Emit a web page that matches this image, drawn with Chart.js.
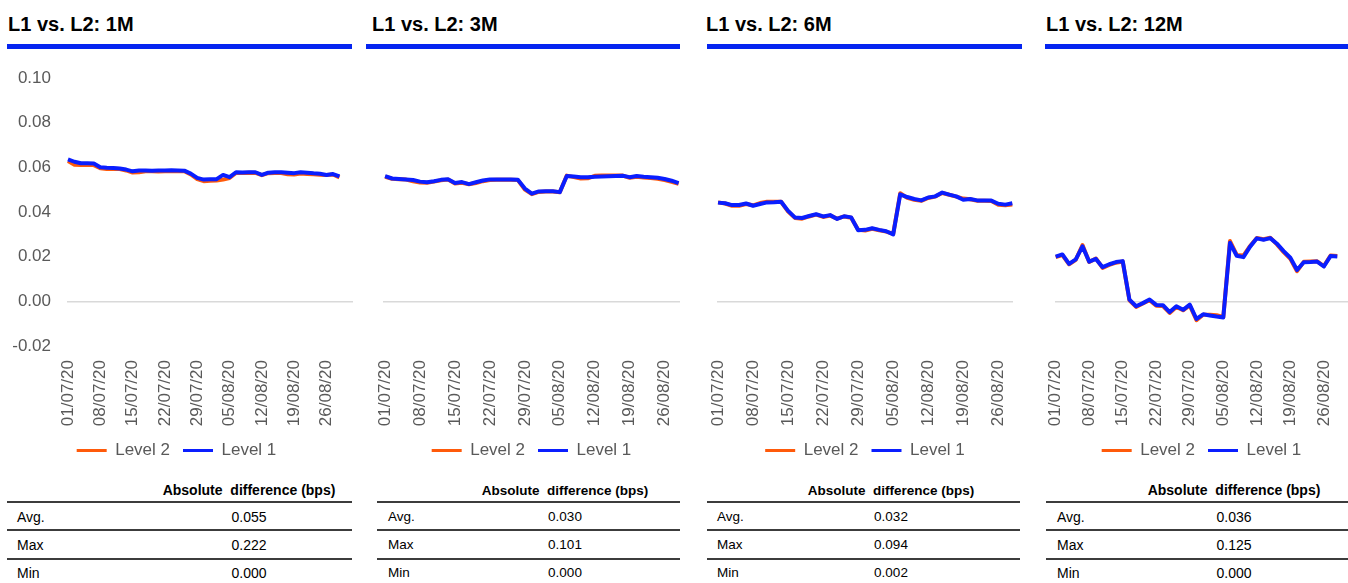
<!DOCTYPE html>
<html>
<head>
<meta charset="utf-8">
<script src="https://cdn.jsdelivr.net/npm/chart.js@4.4.0/dist/chart.umd.min.js"></script>
<style>
    body { margin: 0; background: #fff; font-family: "Liberation Sans", Arial, sans-serif; }
    #page { position: relative; width: 1348px; height: 583px; overflow: hidden; }
    .title { position: absolute; top: 14px; font-weight: bold; font-size: 20px; line-height: 20px; color: #000; white-space: nowrap; }
    .bar { position: absolute; top: 44px; height: 5px; background: #0524f0; }
    .box { position: absolute; top: 60px; }
    .txt { position: absolute; color: #000; white-space: pre; }
    .rule { position: absolute; height: 2px; background: #3c3c3c; }
</style>
</head>
<body>
<div id="page"></div>
<script>
// 日期（工作日）
const dates = ['01/07/20','02/07/20','03/07/20','06/07/20','07/07/20','08/07/20','09/07/20','10/07/20',
    '13/07/20','14/07/20','15/07/20','16/07/20','17/07/20','20/07/20','21/07/20','22/07/20','23/07/20',
    '24/07/20','27/07/20','28/07/20','29/07/20','30/07/20','31/07/20','03/08/20','04/08/20','05/08/20',
    '06/08/20','07/08/20','10/08/20','11/08/20','12/08/20','13/08/20','14/08/20','17/08/20','18/08/20',
    '19/08/20','20/08/20','21/08/20','24/08/20','25/08/20','26/08/20','27/08/20','28/08/20'];

const titles = ['L1 vs. L2: 1M', 'L1 vs. L2: 3M', 'L1 vs. L2: 6M', 'L1 vs. L2: 12M'];
const yTicks = [-0.02, 0, 0.02, 0.04, 0.06, 0.08, 0.10];

// 1M
const m1L2 = [0.0628,0.0612,0.0610,0.0610,0.0610,0.0596,0.0593,0.0594,0.0592,0.0586,0.0577,0.0578,0.0582,0.0583,0.0581,
    0.0583,0.0582,0.0584,0.0583,0.0568,0.0547,0.0538,0.0540,0.0541,0.0545,0.0552,0.0575,0.0575,0.0576,0.0575,0.0565,
    0.0574,0.0575,0.0575,0.0569,0.0568,0.0572,0.0570,0.0569,0.0567,0.0566,0.0568,0.0555];
const m1L1 = [0.0636,0.0625,0.0618,0.0618,0.0617,0.0600,0.0598,0.0597,0.0595,0.0590,0.0582,0.0586,0.0586,0.0585,0.0586,
    0.0586,0.0587,0.0586,0.0585,0.0572,0.0553,0.0545,0.0547,0.0547,0.0566,0.0556,0.0578,0.0577,0.0578,0.0578,0.0566,
    0.0576,0.0578,0.0578,0.0576,0.0574,0.0578,0.0576,0.0573,0.0571,0.0566,0.0570,0.0559];
// 3M
const m3L2 = [0.0558,0.0549,0.0547,0.0545,0.0538,0.0532,0.0531,0.0536,0.0542,0.0545,0.0528,0.0531,0.0524,0.0530,0.0538,
    0.0543,0.0544,0.0544,0.0544,0.0543,0.0500,0.0480,0.0490,0.0492,0.0492,0.0488,0.0563,0.0556,0.0550,0.0551,0.0562,
    0.0563,0.0563,0.0563,0.0563,0.0553,0.0558,0.0554,0.0552,0.0549,0.0543,0.0535,0.0526];
const m3L1 = [0.0561,0.0550,0.0548,0.0546,0.0543,0.0536,0.0533,0.0538,0.0544,0.0547,0.0530,0.0534,0.0525,0.0533,0.0541,
    0.0546,0.0545,0.0545,0.0545,0.0544,0.0505,0.0482,0.0492,0.0493,0.0493,0.0489,0.0561,0.0559,0.0556,0.0556,0.0558,
    0.0559,0.0560,0.0561,0.0562,0.0556,0.0561,0.0558,0.0556,0.0553,0.0548,0.0540,0.0529];
// 6M
const m6L2 = [0.0443,0.0438,0.0428,0.0428,0.0436,0.0430,0.0440,0.0446,0.0446,0.0446,0.0402,0.0373,0.0370,0.0380,0.0388,
    0.0378,0.0384,0.0370,0.0380,0.0374,0.0320,0.0317,0.0325,0.0318,0.0312,0.0302,0.0484,0.0463,0.0455,0.0450,0.0463,
    0.0469,0.0485,0.0477,0.0469,0.0460,0.0457,0.0450,0.0450,0.0449,0.0432,0.0430,0.0433];
const m6L1 = [0.0442,0.0439,0.0431,0.0431,0.0438,0.0428,0.0436,0.0443,0.0444,0.0446,0.0405,0.0375,0.0373,0.0382,0.0390,
    0.0380,0.0386,0.0369,0.0381,0.0376,0.0318,0.0320,0.0327,0.0320,0.0314,0.0300,0.0479,0.0467,0.0458,0.0452,0.0465,
    0.0470,0.0487,0.0478,0.0470,0.0455,0.0458,0.0452,0.0452,0.0451,0.0437,0.0433,0.0439];
// 12M
const m12L2 = [0.0198,0.0207,0.0166,0.0186,0.0252,0.0176,0.0192,0.0150,0.0163,0.0173,0.0178,0.0005,-0.0025,-0.0010,0.0005,
    -0.0020,-0.0021,-0.0052,-0.0025,-0.0040,-0.0018,-0.0084,-0.0060,-0.0060,-0.0062,-0.0070,0.0270,0.0208,0.0205,0.0248,
    0.0284,0.0278,0.0285,0.0255,0.0220,0.0190,0.0135,0.0177,0.0178,0.0179,0.0158,0.0205,0.0203];
const m12L1 = [0.0200,0.0210,0.0168,0.0188,0.0246,0.0178,0.0190,0.0153,0.0166,0.0176,0.0180,0.0008,-0.0022,-0.0008,0.0008,
    -0.0016,-0.0017,-0.0048,-0.0022,-0.0038,-0.0015,-0.0079,-0.0058,-0.0063,-0.0068,-0.0072,0.0262,0.0204,0.0198,0.0245,
    0.0282,0.0276,0.0283,0.0258,0.0225,0.0195,0.0140,0.0175,0.0176,0.0178,0.0156,0.0203,0.0201];

const level2 = [m1L2, m3L2, m6L2, m12L2];
const level1 = [m1L1, m3L1, m6L1, m12L1];

// 表格
const tableHead = 'Absolute  difference (bps)';
const rowNames = ['Avg.', 'Max', 'Min'];
const statAvg = ['0.055', '0.030', '0.032', '0.036'];
const statMax = ['0.222', '0.101', '0.094', '0.125'];
const statMin = ['0.000', '0.000', '0.002', '0.000'];

// 布局（cL/cW 为绘图区，padL/padR 为画布两侧留白）
const layout = [
    {barL: 7,    barW: 345, titleL: 8,    cL: 0,    cW: 353, yW: 67, padL: 0,  padR: 0,  xMin: -0.15, xMax: 44.1, tL: 7,    tW: 345, labX: 17,   valC: 249,  fs: 14},
    {barL: 366,  barW: 314, titleL: 372,  cL: 383,  cW: 297, yW: 0,  padL: 14, padR: 14, xMin: -0.3,  xMax: 42.2, tL: 377,  tW: 303, labX: 388,  valC: 565,  fs: 13.5},
    {barL: 707,  barW: 315, titleL: 706,  cL: 717,  cW: 296, yW: 0,  padL: 14, padR: 14, xMin: -0.15, xMax: 42.1, tL: 707,  tW: 313, labX: 717,  valC: 891,  fs: 13.5},
    {barL: 1045, barW: 303, titleL: 1046, cL: 1055, cW: 293, yW: 0,  padL: 14, padR: 0,  xMin: -0.1,  xMax: 43.6, tL: 1046, tW: 302, labX: 1057, valC: 1234, fs: 14}
];

const page = document.getElementById('page');
const grey = '#595959';
const tickIdx = dates.map((d, i) => i).filter(i => i % 5 === 0);

function addText(text, left, baseline, fs, bold, center) {
    const el = document.createElement('div');
    el.className = 'txt';
    el.textContent = text;
    el.style.fontSize = fs + 'px';
    el.style.lineHeight = fs + 'px';
    el.style.top = (baseline - 0.8465 * fs) + 'px';
    el.style.left = left + 'px';
    if (bold) el.style.fontWeight = 'bold';
    if (center) el.style.transform = 'translateX(-50%)';
    page.appendChild(el);
}

function addRule(left, width, top) {
    const el = document.createElement('div');
    el.className = 'rule';
    el.style.left = left + 'px';
    el.style.width = width + 'px';
    el.style.top = top + 'px';
    page.appendChild(el);
}

layout.forEach(function(p, k) {
    const t = document.createElement('div');
    t.className = 'title';
    t.style.left = p.titleL + 'px';
    t.textContent = titles[k];
    page.appendChild(t);

    const bar = document.createElement('div');
    bar.className = 'bar';
    bar.style.left = p.barL + 'px';
    bar.style.width = p.barW + 'px';
    page.appendChild(bar);

    const box = document.createElement('div');
    box.className = 'box';
    box.style.left = (p.cL - p.padL) + 'px';
    const cv = document.createElement('canvas');
    cv.width = p.cW + p.padL + p.padR;
    cv.height = 409;
    box.appendChild(cv);
    page.appendChild(box);

    new Chart(cv.getContext('2d'), {
        type: 'line',
        data: {
            datasets: [
                {
                    label: 'Level 2',
                    data: level2[k].map((v, i) => ({x: i, y: v})),
                    borderColor: '#ff5a0a',
                    backgroundColor: '#ff5a0a',
                    borderWidth: 4,
                    pointRadius: 0,
                    borderJoinStyle: 'round',
                    order: 1
                },
                {
                    label: 'Level 1',
                    data: level1[k].map((v, i) => ({x: i, y: v})),
                    borderColor: '#0a1eff',
                    backgroundColor: '#0a1eff',
                    borderWidth: 4,
                    pointRadius: 0,
                    borderJoinStyle: 'round',
                    order: 0
                }
            ]
        },
        options: {
            responsive: false,
            animation: false,
            layout: { padding: {top: 18, left: p.padL, right: p.padR, bottom: 0} },
            scales: {
                x: {
                    type: 'linear',
                    min: p.xMin,
                    max: p.xMax,
                    grid: { display: false },
                    border: { display: false },
                    afterBuildTicks: function(s) { s.ticks = tickIdx.map(v => ({value: v})); },
                    afterFit: function(s) {
                        s.height = 83;
                        s.paddingLeft = 0;
                        s.paddingRight = 0;
                    },
                    ticks: {
                        autoSkip: false,
                        minRotation: 90,
                        maxRotation: 90,
                        padding: 6,
                        color: grey,
                        font: {family: 'Liberation Sans', size: 17},
                        callback: v => dates[v]
                    }
                },
                y: {
                    min: -0.02,
                    max: 0.10,
                    afterBuildTicks: function(s) { s.ticks = yTicks.map(v => ({value: v})); },
                    afterFit: function(s) {
                        s.width = p.yW;
                        s.paddingTop = 0;
                        s.paddingBottom = 0;
                    },
                    grid: {
                        drawTicks: false,
                        lineWidth: 1.5,
                        color: c => (c.tick && c.tick.value === 0) ? '#d9d9d9' : 'rgba(0,0,0,0)'
                    },
                    border: { display: false },
                    ticks: {
                        display: k === 0,
                        padding: 16,
                        color: grey,
                        font: {family: 'Liberation Sans', size: 17},
                        callback: v => v.toFixed(2)
                    }
                }
            },
            plugins: {
                tooltip: { enabled: false },
                legend: {
                    position: 'bottom',
                    labels: {
                        boxWidth: 30,
                        boxHeight: 3,
                        padding: 13,
                        color: grey,
                        font: {family: 'Liberation Sans', size: 17},
                        sort: (a, b) => a.datasetIndex - b.datasetIndex,
                        generateLabels: function(chart) {
                            const items = Chart.defaults.plugins.legend.labels.generateLabels(chart);
                            items.forEach(function(it) { it.lineWidth = 0; it.fillStyle = it.strokeStyle; });
                            return items;
                        }
                    }
                }
            }
        }
    });

    // 统计表
    addText(tableHead, p.valC, 495, p.fs, true, true);
    addRule(p.tL, p.tW, 501);
    addRule(p.tL, p.tW, 529);
    addRule(p.tL, p.tW, 557.5);
    const vals = [statAvg[k], statMax[k], statMin[k]];
    const bases = [521.5, 549.5, 577.5];
    rowNames.forEach(function(r, j) {
        addText(r, p.labX, bases[j], p.fs, false, false);
        addText(vals[j], p.valC, bases[j], p.fs, false, true);
    });
});
</script>
</body>
</html>
